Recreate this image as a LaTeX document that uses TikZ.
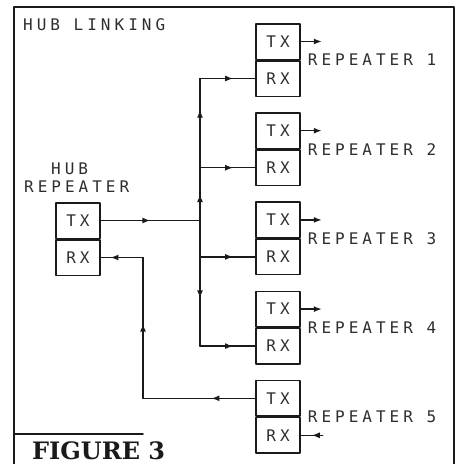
\documentclass[tikz,border=0pt]{standalone}
\usepackage{fontspec}
\newfontfamily\dotfont[LetterSpace=25]{DejaVu Sans Mono}
\newfontfamily\figfont{DejaVu Serif}
\usetikzlibrary{arrows.meta, positioning, decorations.markings}
\definecolor{ink}{HTML}{1A1A1A}
\definecolor{dotink}{HTML}{2E2E2E}
\tikzset{
  >={Latex[length=8pt,width=6pt]},
  every picture/.style={line cap=round, line join=round},
  frame/.style={ink, line width=1.8pt},
  % TX / RX halves of a repeater
  unit/.style={draw=ink, line width=1.5pt, minimum width=44pt, minimum height=35.5pt, inner sep=0pt,
    font=\dotfont\fontsize{16}{18}\selectfont, text=dotink},
  dottext/.style={inner sep=0pt, font=\dotfont\fontsize{16}{18}\selectfont, text=dotink},
  wire/.style={ink, line width=1.4pt},
  % line with an arrow tip part way along
  midarrow/.style={wire, decoration={markings, mark=at position #1 with {\arrow{>}}}, postaction=decorate},
  midarrow/.default=0.5,
}
\begin{document}
\begin{tikzpicture}[x=1pt, y=-1pt]
  \useasboundingbox (0,0) rectangle (462,464);
  % ---- frame and caption
  \draw[frame] (14,464) -- (14,7) -- (454,7) -- (454,464);
  \draw[frame] (14,434) -- (143,434);
  \node[dottext, anchor=west] (title) at (23,25) {HUB LINKING};
  \node[anchor=base west, inner sep=0pt, font=\figfont\bfseries\fontsize{24}{26}\selectfont, text=ink] (fig) at (32,459) {FIGURE 3};
  % ---- hub repeater
  \node[dottext, anchor=west] (hubname) at (51,169) {HUB};
  \node[dottext, anchor=west] (hubrep) at (24,187) {REPEATER};
  \node[unit] (hubtx) at (78,220.5) {TX};
  \node[unit, below=0pt of hubtx] (hubrx) {RX};
  % ---- repeaters 1 to 5
  \foreach \i in {1,...,5} {
    \node[unit] (r\i tx) at (278,{41.5+89.2*(\i-1)}) {TX};
    \node[unit, below=0pt of r\i tx] (r\i rx) {RX};
    \node[dottext, anchor=west, right=7pt of r\i tx.south east] (r\i name) {REPEATER \i};
  }
  % ---- hub TX to the RX bus
  \coordinate (join) at (hubtx.east -| 200,0);
  \foreach \i in {1,...,4} \coordinate (bus\i) at (r\i rx.west -| join);
  \draw[midarrow] (hubtx) -- (join);
  \draw[midarrow] (join) -- (bus2);
  \draw[midarrow=0.65] (bus2) -- (bus1);
  \draw[midarrow=0.62] (join) -- (bus4);
  \foreach \i in {1,...,4} \draw[midarrow=0.6] (bus\i) -- (r\i rx);
  % ---- repeater 5 TX back to hub RX
  \coordinate (retlow) at (r5tx.west -| 143,0);
  \coordinate (rethigh) at (hubrx.east -| retlow);
  \draw[midarrow=0.39] (r5tx) -- (retlow);
  \draw[midarrow=0.53] (retlow) -- (rethigh);
  \draw[midarrow=0.77] (rethigh) -- (hubrx);
  % ---- outer ports
  \foreach \i in {1,...,4} {
    \path (r\i tx.east) ++(21,0) coordinate (r\i out);
    \draw[wire, ->] (r\i tx) -- (r\i out);
  }
  \path (r5rx.east) ++(22,0) coordinate (r5in);
  \draw[midarrow] (r5in) -- (r5rx);
\end{tikzpicture}
\end{document}
